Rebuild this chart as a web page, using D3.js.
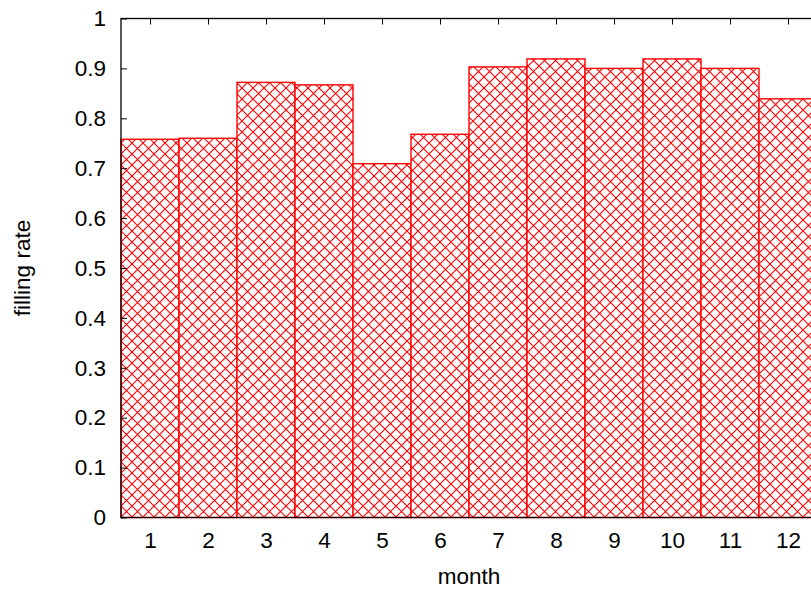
<!DOCTYPE html>
<html>
<head>
<meta charset="utf-8">
<script src="https://cdn.jsdelivr.net/npm/d3@7"></script>
<style>
  body { margin: 0; background: #fff; }
  svg text { font-family: "Liberation Sans", Arial, sans-serif; fill: #000; }
</style>
</head>
<body>
<div id="chart"></div>
<script>
var months = [1, 2, 3, 4, 5, 6, 7, 8, 9, 10, 11, 12];
var fillingRate = [0.758, 0.760, 0.872, 0.867, 0.709, 0.768, 0.903, 0.919, 0.900, 0.919, 0.900, 0.839];
var yTicks = [0, 0.1, 0.2, 0.3, 0.4, 0.5, 0.6, 0.7, 0.8, 0.9, 1];

var width = 811, height = 589;
var margin = { left: 121, top: 18.5, right: -6, bottom: 71.5 };
var fontSize = 22.5;

var svg = d3.select("#chart").append("svg")
  .attr("width", width)
  .attr("height", height);

var x = d3.scaleLinear()
  .domain([0.5, 12.5])
  .range([margin.left, width - margin.right]);

var y = d3.scaleLinear()
  .domain([0, 1])
  .range([height - margin.bottom, margin.top]);

// crosshatch pattern, like gnuplot fill pattern
var p = 11;
var pat = svg.append("defs").append("pattern")
  .attr("id", "hatch")
  .attr("patternUnits", "userSpaceOnUse")
  .attr("width", p)
  .attr("height", p);
pat.append("rect")
  .attr("width", p)
  .attr("height", p)
  .attr("fill", "#fff");
pat.append("path")
  .attr("d", "M-1,-1L" + (p + 1) + "," + (p + 1) + "M-1," + (p + 1) + "L" + (p + 1) + ",-1")
  .attr("stroke", "#ff0000")
  .attr("stroke-width", 1.1)
  .attr("fill", "none");

var barW = x(1.5) - x(0.5);

var bars = svg.append("g").attr("class", "bars");
bars.selectAll("rect.bar")
  .data(months)
  .enter().append("rect")
  .attr("class", "bar")
  .attr("x", function(d) { return x(d - 0.5); })
  .attr("y", function(d, i) { return y(fillingRate[i]); })
  .attr("width", barW)
  .attr("height", function(d, i) { return y(0) - y(fillingRate[i]); })
  .attr("fill", "url(#hatch)")
  .attr("stroke", "#ff0000")
  .attr("stroke-width", 1.4);

// axes
var axLeft = svg.append("g")
  .attr("transform", "translate(" + margin.left + ",0)")
  .call(d3.axisLeft(y).tickValues(yTicks).tickSize(-6).tickPadding(15)
    .tickFormat(function(d) { return d === 0 || d === 1 ? d3.format("d")(d) : d3.format(".1f")(d); }));

var axRight = svg.append("g")
  .attr("transform", "translate(" + (width - margin.right) + ",0)")
  .call(d3.axisRight(y).tickValues(yTicks).tickSize(-6).tickFormat(""));

var axTop = svg.append("g")
  .attr("transform", "translate(0," + margin.top + ")")
  .call(d3.axisTop(x).tickValues(months).tickSize(-6).tickFormat(""));

var axBottom = svg.append("g")
  .attr("transform", "translate(0," + (height - margin.bottom) + ")")
  .call(d3.axisBottom(x).tickValues(months).tickSize(0).tickPadding(15));

[axLeft, axRight, axTop, axBottom].forEach(function(g) {
  g.select(".domain").remove();
  g.selectAll("line").attr("stroke", "#000").attr("stroke-width", 1);
  g.selectAll("text")
    .attr("font-size", fontSize)
    .attr("font-family", "Liberation Sans, Arial, sans-serif")
    .attr("fill", "#000");
});

// frame
svg.append("rect")
  .attr("x", margin.left)
  .attr("y", margin.top)
  .attr("width", x(12.5) - x(0.5))
  .attr("height", y(0) - y(1))
  .attr("fill", "none")
  .attr("stroke", "#000")
  .attr("stroke-width", 1.3);

svg.append("text")
  .attr("transform", "translate(30," + ((y(0) + y(1)) / 2) + ") rotate(-90)")
  .attr("text-anchor", "middle")
  .attr("font-size", fontSize)
  .text("filling rate");

svg.append("text")
  .attr("x", (x(0.5) + x(12.5)) / 2)
  .attr("y", 584)
  .attr("text-anchor", "middle")
  .attr("font-size", fontSize)
  .text("month");
</script>
</body>
</html>
